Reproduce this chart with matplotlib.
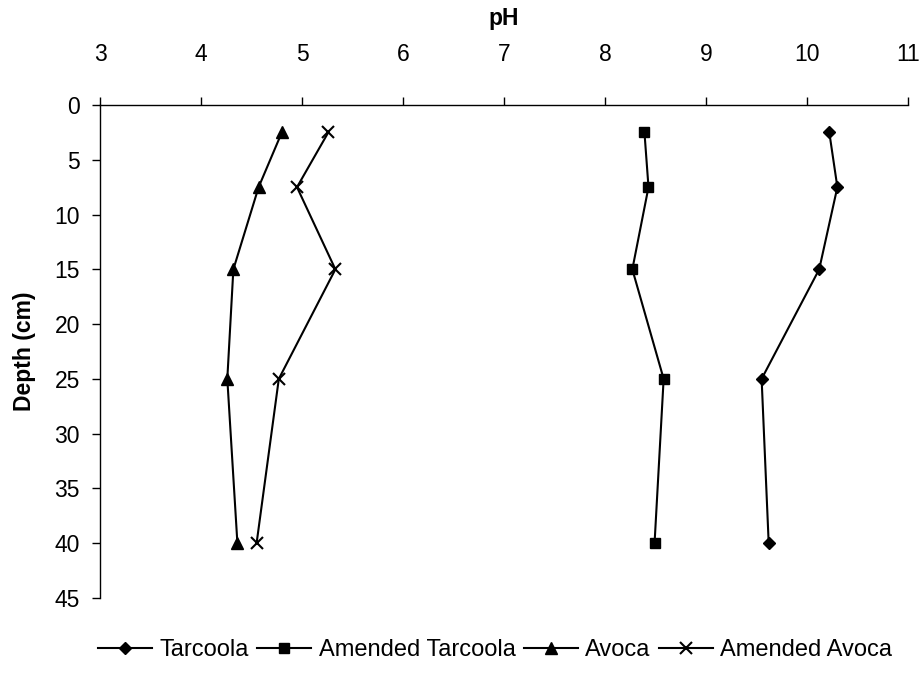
import matplotlib
matplotlib.use("Agg")
import matplotlib.pyplot as plt

plt.rcParams['font.family'] = ['Liberation Sans', 'DejaVu Sans']

depth = [2.5, 7.5, 15, 25, 40]
tarcoola = [10.22, 10.30, 10.12, 9.55, 9.62]
amended_tarcoola = [8.39, 8.43, 8.27, 8.58, 8.49]
avoca = [4.80, 4.57, 4.32, 4.26, 4.36]
amended_avoca = [5.26, 4.95, 5.33, 4.77, 4.55]

x_ticks = [3, 4, 5, 6, 7, 8, 9, 10, 11]
y_ticks = [0, 5, 10, 15, 20, 25, 30, 35, 40, 45]

fig = plt.figure(figsize=(9.22, 6.77), dpi=100)
ax = fig.add_axes([0.1085, 0.1167, 0.8764, 0.7282])

series = [
    ("Tarcoola", tarcoola, dict(marker='D', markersize=6.5)),
    ("Amended Tarcoola", amended_tarcoola, dict(marker='s', markersize=7)),
    ("Avoca", avoca, dict(marker='^', markersize=9)),
    ("Amended Avoca", amended_avoca, dict(marker='x', markersize=9, markeredgewidth=1.5)),
]
for name, vals, style in series:
    ax.plot(vals, depth, color='black', linewidth=1.5, markerfacecolor='black',
            markeredgecolor='black', label=name, **style)

ax.set_xlim(3, 11)
ax.set_ylim(45, 0)
ax.set_xticks(x_ticks)
ax.set_yticks(y_ticks)
ax.xaxis.tick_top()
ax.xaxis.set_label_position('top')
ax.tick_params(axis='both', direction='out', length=6, width=1, labelsize=16.5)
ax.tick_params(axis='x', pad=22)
ax.tick_params(axis='y', pad=8.5)
for side in ('right', 'bottom'):
    ax.spines[side].set_visible(False)
for side in ('left', 'top'):
    ax.spines[side].set_linewidth(1)

ax.set_xlabel('pH', fontsize=16.5, fontweight='bold', labelpad=13)
ax.set_ylabel('Depth (cm)', fontsize=16.5, fontweight='bold', labelpad=13)

fig.legend(loc='center', bbox_to_anchor=(0.537, 0.040), ncol=4, frameon=False,
           fontsize=17, handlelength=2.3, handletextpad=0.3, columnspacing=0.35,
           borderaxespad=0, borderpad=0)

fig.savefig('out.png', dpi=100)
